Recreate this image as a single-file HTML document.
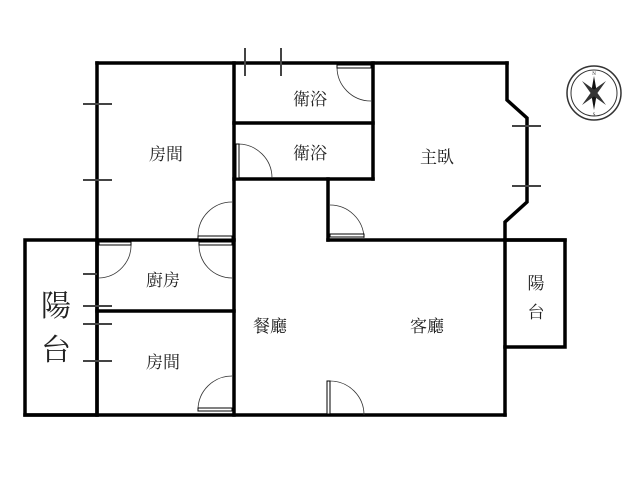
<!DOCTYPE html>
<html><head><meta charset="utf-8"><style>
html,body{margin:0;padding:0;background:#fff;}
svg{display:block;}
text{font-family:"Liberation Serif","Noto Serif CJK SC","Noto Sans CJK TC",serif;fill:#222;}
</style></head><body>
<svg width="640" height="480" viewBox="0 0 640 480" xmlns="http://www.w3.org/2000/svg">
<g stroke="#000" stroke-width="3.5" fill="none" stroke-linecap="square">
  <line x1="97" y1="63" x2="507" y2="63"/>
  <line x1="97" y1="63" x2="97" y2="415"/>
  <line x1="234" y1="63" x2="234" y2="415"/>
  <line x1="373" y1="63" x2="373" y2="179"/>
  <line x1="234" y1="123" x2="373" y2="123"/>
  <line x1="234" y1="179" x2="373" y2="179"/>
  <polyline points="507,63 507,100 527,118 527,202 505,222 505,415"/>
  <line x1="328" y1="179" x2="328" y2="240"/>
  <line x1="328" y1="240" x2="565" y2="240"/>
  <rect x="25" y="240" width="72" height="175"/>
  <line x1="97" y1="240" x2="234" y2="240"/>
  <line x1="97" y1="311" x2="234" y2="311"/>
  <line x1="25" y1="415" x2="505" y2="415"/>
  <polyline points="505,240 565,240 565,347 505,347"/>
</g>
<g stroke="#333" stroke-width="0.8" fill="none">
  <path d="M337,67 A34,34 0 0 0 371,101"/>
  <path d="M238,144 A34,34 0 0 1 272,178"/>
  <path d="M198,236 A34,34 0 0 1 232,202"/>
  <path d="M330,205 A34,34 0 0 1 364,238"/>
  <path d="M131,243 A33,33 0 0 1 99,278"/>
  <path d="M199,243 A33,33 0 0 0 232,278"/>
  <path d="M198,410 A34,34 0 0 1 232,376"/>
  <path d="M330,381 A34,34 0 0 1 364,415"/>
</g>
<g stroke="#000" stroke-width="1" fill="#fff">
  <rect x="337" y="65" width="34" height="3"/>
  <rect x="236" y="144" width="3" height="34"/>
  <rect x="198" y="236" width="34" height="3"/>
  <rect x="330" y="234" width="34" height="3"/>
  <rect x="99" y="242" width="32" height="3"/>
  <rect x="199" y="242" width="33" height="3"/>
  <rect x="198" y="408" width="34" height="3"/>
  <rect x="327" y="381" width="3" height="33"/>
</g>
<g stroke="#444" stroke-width="2">
  <line x1="83" y1="104" x2="112" y2="104"/>
  <line x1="83" y1="180" x2="112" y2="180"/>
  <line x1="245" y1="48" x2="245" y2="76"/>
  <line x1="281" y1="48" x2="281" y2="76"/>
  <line x1="512" y1="126" x2="541" y2="126"/>
  <line x1="512" y1="186" x2="541" y2="186"/>
  <line x1="83" y1="274" x2="97" y2="274"/>
  <line x1="83" y1="306" x2="112" y2="306"/>
  <line x1="83" y1="324" x2="112" y2="324"/>
  <line x1="83" y1="361" x2="112" y2="361"/>
</g>
<g transform="translate(594,93)">
  <circle r="27" fill="none" stroke="#333" stroke-width="1.5"/>
  <circle r="23" fill="none" stroke="#333" stroke-width="1"/>
  <polygon points="0,-17 3,0 0,17 -3,0" fill="#111"/>
  <polygon points="-12,-12 2,-2 12,12 -2,2" fill="#333"/>
  <polygon points="12,-12 2,2 -12,12 -2,-2" fill="#333"/>
  <text x="0" y="-18" font-size="5" text-anchor="middle">N</text>
  <text x="0" y="23" font-size="5" text-anchor="middle">S</text>
</g>
<g font-size="17" text-anchor="middle">
  <text x="166" y="160">房間</text>
  <text x="310" y="105">衛浴</text>
  <text x="310" y="159">衛浴</text>
  <text x="437" y="163">主臥</text>
  <text x="163" y="286">廚房</text>
  <text x="163" y="368">房間</text>
  <text x="270" y="332">餐廳</text>
  <text x="427" y="332">客廳</text>
  <text x="536" y="289">陽</text>
  <text x="536" y="318">台</text>
</g>
<g font-size="30" text-anchor="middle">
  <text x="56" y="316">陽</text>
  <text x="56" y="360">台</text>
</g>
</svg>
</body></html>
